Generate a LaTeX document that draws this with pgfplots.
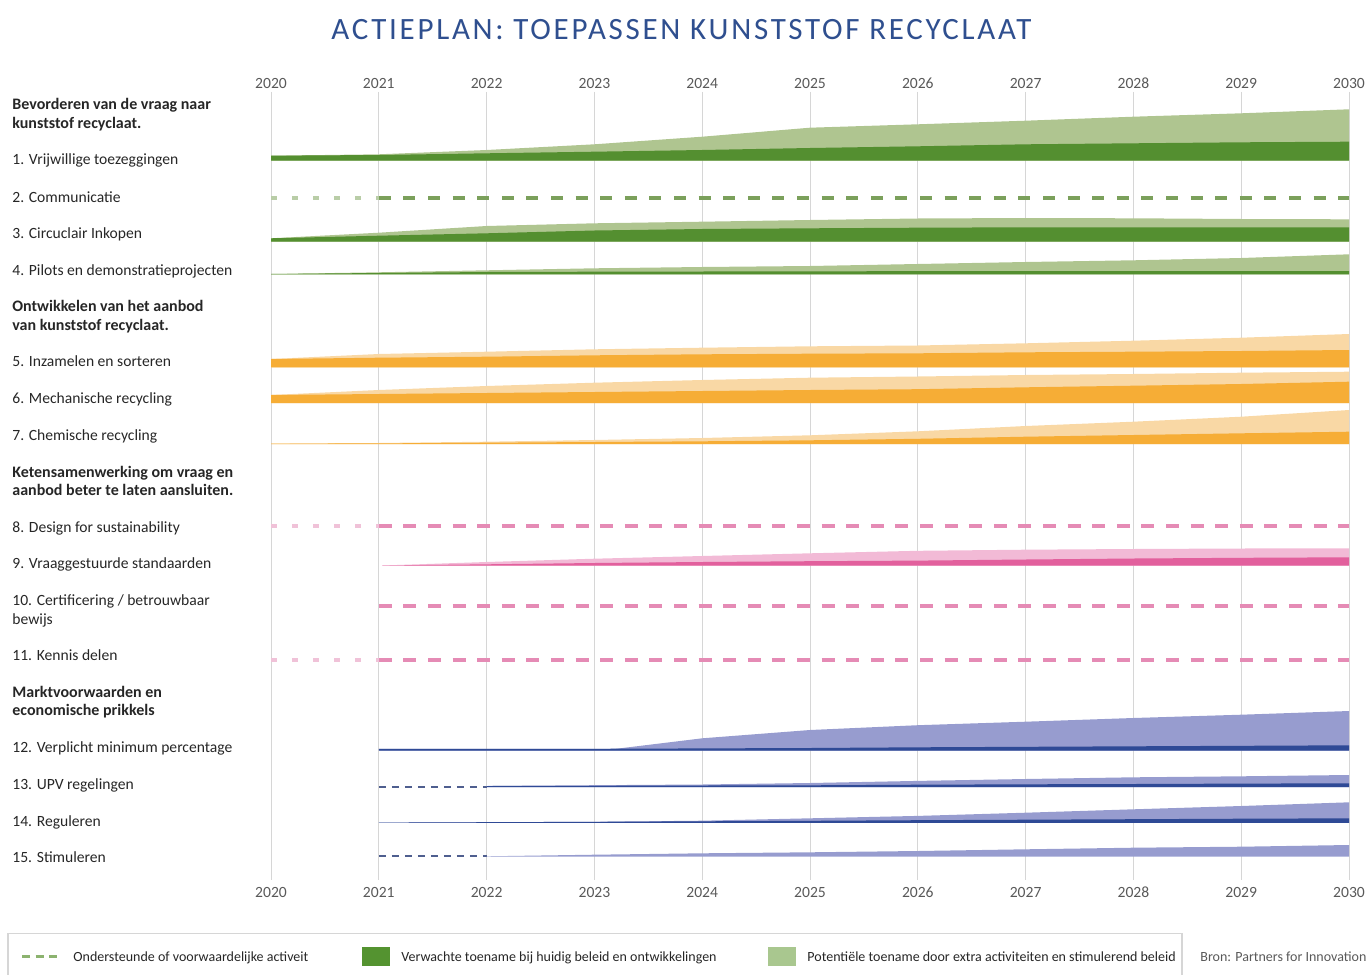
\documentclass[border=0pt]{standalone}
\usepackage{fontspec}
\setmainfont{Carlito}
\usepackage{pgfplots}
\pgfplotsset{compat=1.18}
\definecolor{dkgreen}{HTML}{548F30}
\definecolor{ltgreen}{HTML}{AFC590}
\definecolor{gdash}{HTML}{7BA05B}
\definecolor{gdashl}{HTML}{B9CDA7}
\definecolor{dkorange}{HTML}{F6AD36}
\definecolor{ltorange}{HTML}{F9D8A5}
\definecolor{dkpink}{HTML}{E2609D}
\definecolor{ltpink}{HTML}{F2BAD6}
\definecolor{pdash}{HTML}{E58BB5}
\definecolor{pdashl}{HTML}{F0C2D8}
\definecolor{ltblue}{HTML}{979CCF}
\definecolor{dkblue}{HTML}{2F4A96}
\definecolor{bdash}{HTML}{4F5F8F}
\definecolor{titlec}{HTML}{2F4F8F}
\definecolor{gridc}{HTML}{D6D6D6}
\definecolor{txt}{HTML}{262626}
\definecolor{yearc}{HTML}{595959}
\definecolor{legg}{HTML}{8CB36F}
\definecolor{legdk}{HTML}{549330}
\definecolor{leglt}{HTML}{A9C78F}
\tikzset{
  lab/.style={anchor=base west, inner sep=0pt, text=txt, font=\fontsize{7.8pt}{9pt}\selectfont},
  hlab/.style={lab, font=\fontsize{8pt}{9pt}\selectfont\bfseries},
  yearlab/.style={inner sep=0pt, text=yearc, font=\fontsize{7.8pt}{9pt}\selectfont},
  leglab/.style={anchor=base west, inner sep=0pt, text=txt, font=\fontsize{7pt}{8pt}\selectfont},
}
\begin{document}
\begin{tikzpicture}
\begin{axis}[scale only axis, width=684.5pt, height=487pt,
  xmin=2017.4861, xmax=2030.1855, ymin=0, ymax=974, y dir=reverse,
  axis lines=none, ticks=none, clip=false,
  every axis plot/.append style={mark=none},
]
% grid
\pgfplotsinvokeforeach{2020,...,2030}{
  \draw[gridc, line width=0.5pt] (axis cs:#1,92) -- (axis cs:#1,880);
  \node[yearlab] at (axis cs:#1,83.5) {#1};
  \node[yearlab] at (axis cs:#1,892) {#1};
}
% title
\node[text=titlec, inner sep=0pt, font=\fontsize{15.5pt}{17pt}\selectfont\addfontfeatures{LetterSpace=8.8}] at (axis cs:2023.8080,30) {ACTIEPLAN: TOEPASSEN KUNSTSTOF RECYCLAAT};

% ---- Row 1
\addplot[fill=ltgreen, draw=none] coordinates {(2020,155.7)(2021,154.3)(2022,150)(2023,144.3)(2024,136.7)(2025,127.7)(2026,124.3)(2027,120.7)(2028,116.7)(2029,113.3)(2030,109.3)(2030,160.5)(2020,160.5)};
\addplot[fill=dkgreen, draw=none] coordinates {(2020,155.7)(2021,155)(2022,153.3)(2023,151.7)(2024,150)(2025,148)(2026,146.3)(2027,144.3)(2028,143.3)(2029,142.3)(2030,141.7)(2030,160.5)(2020,160.5)};
% ---- Row 2
\addplot[gdashl, line width=2pt, dash pattern=on 3pt off 7.5pt] coordinates {(2020,197.5)(2021,197.5)};
\addplot[gdash, line width=2pt, dash pattern=on 6pt off 6.3pt] coordinates {(2021,197.5)(2030,197.5)};
% ---- Row 3
\addplot[fill=ltgreen, draw=none] coordinates {(2020,238.3)(2021,232.7)(2022,226)(2023,223.3)(2024,221.7)(2025,220)(2026,218.5)(2027,218)(2028,218.3)(2029,219)(2030,219.3)(2030,241.5)(2020,241.5)};
\addplot[fill=dkgreen, draw=none] coordinates {(2020,238.3)(2021,235.7)(2022,233.3)(2023,230.5)(2024,229)(2025,228.3)(2026,227.7)(2027,227.3)(2028,227.3)(2029,227.3)(2030,227.3)(2030,241.5)(2020,241.5)};
% ---- Row 4
\addplot[fill=ltgreen, draw=none] coordinates {(2020,274.0)(2021,272.3)(2022,270.3)(2023,268.3)(2024,267)(2025,266)(2026,264)(2027,262)(2028,260.3)(2029,258)(2030,254.3)(2030,274.3)(2020,274.3)};
\addplot[fill=dkgreen, draw=none] coordinates {(2020,274.0)(2021,273)(2022,272)(2023,271.7)(2024,271.5)(2025,271.3)(2026,271.2)(2027,271)(2028,271)(2029,271)(2030,271)(2030,274.3)(2020,274.3)};
% ---- Row 5
\addplot[fill=ltorange, draw=none] coordinates {(2020,359)(2021,354)(2022,351.7)(2023,349.3)(2024,347.7)(2025,346.3)(2026,345.5)(2027,343.3)(2028,340.7)(2029,337.7)(2030,334)(2030,367.3)(2020,367.3)};
\addplot[fill=dkorange, draw=none] coordinates {(2020,359)(2021,357.7)(2022,356.7)(2023,355.3)(2024,354.3)(2025,353.7)(2026,353.3)(2027,352.3)(2028,351.7)(2029,351)(2030,350)(2030,367.3)(2020,367.3)};
% ---- Row 6
\addplot[fill=ltorange, draw=none] coordinates {(2020,395)(2021,390)(2022,386)(2023,382.7)(2024,380)(2025,377.7)(2026,376.5)(2027,375)(2028,374)(2029,372.7)(2030,371.7)(2030,403)(2020,403)};
\addplot[fill=dkorange, draw=none] coordinates {(2020,395)(2021,394)(2022,393)(2023,392)(2024,391)(2025,390)(2026,389.2)(2027,387.3)(2028,385.7)(2029,384)(2030,381.7)(2030,403)(2020,403)};
% ---- Row 7
\addplot[fill=ltorange, draw=none] coordinates {(2020,443.6)(2021,443)(2022,441.7)(2023,440)(2024,438)(2025,435.3)(2026,431.3)(2027,426)(2028,421.7)(2029,416.7)(2030,410)(2030,444.2)(2020,444.2)};
\addplot[fill=dkorange, draw=none] coordinates {(2020,443.6)(2021,443.4)(2022,442.7)(2023,442)(2024,441.3)(2025,440.3)(2026,438.8)(2027,436.7)(2028,435)(2029,433.3)(2030,431.7)(2030,444.2)(2020,444.2)};
% ---- Row 8
\addplot[pdashl, line width=1.9pt, dash pattern=on 3pt off 7.5pt] coordinates {(2020,526)(2021,526)};
\addplot[pdash, line width=1.9pt, dash pattern=on 6.5pt off 5.8pt] coordinates {(2021,526)(2030,526)};
% ---- Row 9
\addplot[fill=ltpink, draw=none] coordinates {(2021.03,565.5)(2022,562)(2023,558.7)(2024,556)(2025,553.3)(2026,550.8)(2027,549.7)(2028,549)(2029,548.5)(2030,548.3)(2030,565.7)(2021.03,565.7)};
\addplot[fill=dkpink, draw=none] coordinates {(2021.03,565.5)(2022,564.3)(2023,563)(2024,562)(2025,561.2)(2026,560.6)(2027,559.5)(2028,558.5)(2029,557.8)(2030,557.3)(2030,565.7)(2021.03,565.7)};
% ---- Row 10
\addplot[pdash, line width=1.9pt, dash pattern=on 6.5pt off 5.8pt] coordinates {(2021,606)(2030,606)};
% ---- Row 11
\addplot[pdashl, line width=1.9pt, dash pattern=on 3pt off 7.5pt] coordinates {(2020,660)(2021,660)};
\addplot[pdash, line width=1.9pt, dash pattern=on 6.5pt off 5.8pt] coordinates {(2021,660)(2030,660)};
% ---- Row 12
\addplot[fill=ltblue, draw=none] coordinates {(2021,748.8)(2023,748.8)(2023.2,748.8)(2024,738.3)(2025,730)(2026,725.2)(2027,721.7)(2028,718)(2029,714.7)(2030,711)(2030,750.5)(2021,750.5)};
\addplot[fill=dkblue, draw=none] coordinates {(2021,748.8)(2022,748.8)(2023,748.8)(2024,748.4)(2025,748)(2026,747.3)(2027,746.8)(2028,746.3)(2029,745.8)(2030,745.3)(2030,750.5)(2021,750.5)};
% ---- Row 13
\addplot[bdash, line width=1pt, dash pattern=on 3.5pt off 3pt] coordinates {(2021,786.6)(2022,786.6)};
\addplot[fill=ltblue, draw=none] coordinates {(2022,786.0)(2023,785.2)(2024,784.5)(2025,783)(2026,780.9)(2027,779)(2028,777.3)(2029,776.3)(2030,775)(2030,787.2)(2022,787.2)};
\addplot[fill=dkblue, draw=none] coordinates {(2022,786.0)(2023,785.8)(2024,785.5)(2025,785.3)(2026,784.7)(2027,784.3)(2028,784)(2029,783.6)(2030,783.3)(2030,787.2)(2022,787.2)};
% ---- Row 14
\addplot[fill=ltblue, draw=none] coordinates {(2021,822.6)(2022,822.2)(2023,821.8)(2024,820.7)(2025,818.3)(2026,815.9)(2027,812.7)(2028,809.3)(2029,806)(2030,802.3)(2030,822.8)(2021,822.8)};
\addplot[fill=dkblue, draw=none] coordinates {(2021,822.6)(2022,822.2)(2023,821.8)(2024,821.3)(2025,820.8)(2026,820.2)(2027,819.7)(2028,819.2)(2029,818.7)(2030,818.3)(2030,822.8)(2021,822.8)};
% ---- Row 15
\addplot[bdash, line width=1pt, dash pattern=on 3.5pt off 3pt] coordinates {(2021,856.3)(2022,856.3)};
\addplot[fill=ltblue, draw=none] coordinates {(2022,856.3)(2023,854.7)(2024,853.3)(2025,852.3)(2026,851)(2027,849.3)(2028,847.7)(2029,846.7)(2030,845)(2030,856.6)(2022,856.6)};

% ---- labels
\node[hlab] at (axis cs:2017.5974,110) {Bevorderen van de vraag naar};
\node[hlab] at (axis cs:2017.5974,128) {kunststof recyclaat.};
\node[lab] at (axis cs:2017.5974,164) {1. Vrijwillige toezeggingen};
\node[lab] at (axis cs:2017.5974,202) {2. Communicatie};
\node[lab] at (axis cs:2017.5974,238) {3. Circuclair Inkopen};
\node[lab] at (axis cs:2017.5974,275) {4. Pilots en demonstratieprojecten};
\node[hlab] at (axis cs:2017.5974,311) {Ontwikkelen van het aanbod};
\node[hlab] at (axis cs:2017.5974,330) {van kunststof recyclaat.};
\node[lab] at (axis cs:2017.5974,366) {5. Inzamelen en sorteren};
\node[lab] at (axis cs:2017.5974,403) {6. Mechanische recycling};
\node[lab] at (axis cs:2017.5974,440) {7. Chemische recycling};
\node[hlab] at (axis cs:2017.5974,477) {Ketensamenwerking om vraag en};
\node[hlab] at (axis cs:2017.5974,495) {aanbod beter te laten aansluiten.};
\node[lab] at (axis cs:2017.5974,532) {8. Design for sustainability};
\node[lab] at (axis cs:2017.5974,568) {9. Vraaggestuurde standaarden};
\node[lab] at (axis cs:2017.5974,605) {10. Certificering / betrouwbaar};
\node[lab] at (axis cs:2017.5974,624) {bewijs};
\node[lab] at (axis cs:2017.5974,660) {11. Kennis delen};
\node[hlab] at (axis cs:2017.5974,697) {Marktvoorwaarden en};
\node[hlab] at (axis cs:2017.5974,715) {economische prikkels};
\node[lab] at (axis cs:2017.5974,752) {12. Verplicht minimum percentage};
\node[lab] at (axis cs:2017.5974,789) {13. UPV regelingen};
\node[lab] at (axis cs:2017.5974,826) {14. Reguleren};
\node[lab] at (axis cs:2017.5974,862) {15. Stimuleren};

% ---- legend
\draw[gridc, line width=0.6pt] (axis cs:2017.5603,990) -- (axis cs:2017.5603,933.5) -- (axis cs:2028.4508,933.5) -- (axis cs:2028.4508,990);
\draw[legg, line width=1.5pt, dash pattern=on 4pt off 2.8pt] (axis cs:2017.6902,956.5) -- (axis cs:2018.0612,956.5);
\node[leglab] at (axis cs:2018.1633,961) {Ondersteunde of voorwaardelijke activeit};
\fill[legdk] (axis cs:2020.8442,947) rectangle (axis cs:2021.1039,966);
\node[leglab] at (axis cs:2021.2060,961) {Verwachte toename bij huidig beleid en ontwikkelingen};
\fill[leglt] (axis cs:2024.6104,947) rectangle (axis cs:2024.8701,966);
\node[leglab] at (axis cs:2024.9722,961) {Potentiële toename door extra activiteiten en stimulerend beleid};
\node[leglab, text=yearc] at (axis cs:2028.6178,961) {Bron: Partners for Innovation};
\end{axis}
\pgfresetboundingbox
\path (current axis.south west) rectangle (current axis.north east);
\end{tikzpicture}
\end{document}
